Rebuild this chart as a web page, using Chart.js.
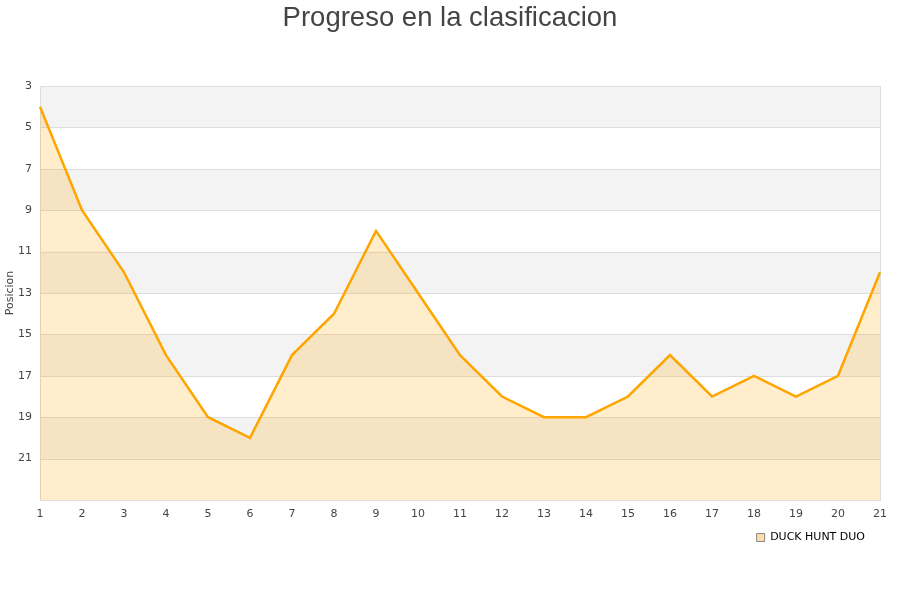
<!DOCTYPE html>
<html>
<head>
<meta charset="utf-8">
<script src="https://cdn.jsdelivr.net/npm/chart.js@4/dist/chart.umd.min.js"></script>
<style>
html,body{margin:0;padding:0;background:#fff;}
#wrap{width:900px;height:600px;position:relative;}
</style>
</head>
<body>
<div id="wrap"><canvas id="c" width="900" height="600"></canvas></div>
<script>
const chartTitle = 'Progreso en la clasificacion';
const seriesName = 'DUCK HUNT DUO';
const yTitle = 'Posicion';
const rounds = ['1','2','3','4','5','6','7','8','9','10','11','12','13','14','15','16','17','18','19','20','21'];
const positions = [4,9,12,16,19,20,16,14,10,13,16,18,19,19,18,16,18,17,18,17,12];
const yMin = 3;
const yMax = 23;
const yStep = 2;

const bandsPlugin = {
  id: 'bands',
  beforeDatasetsDraw(chart) {
    const {ctx, chartArea, scales} = chart;
    const y = scales.y;
    ctx.save();
    ctx.fillStyle = '#f3f3f3';
    for (let v = yMin; v < yMax; v += yStep * 2) {
      const p1 = y.getPixelForValue(v);
      const p2 = y.getPixelForValue(Math.min(v + yStep, yMax));
      ctx.fillRect(chartArea.left, Math.min(p1, p2), chartArea.right - chartArea.left, Math.abs(p2 - p1));
    }
    ctx.strokeStyle = '#dddddd';
    ctx.lineWidth = 1;
    for (let v = yMin; v <= yMax; v += yStep) {
      const p = Math.round(y.getPixelForValue(v)) + 0.5;
      ctx.beginPath();
      ctx.moveTo(chartArea.left, p);
      ctx.lineTo(chartArea.right, p);
      ctx.stroke();
    }
    ctx.strokeRect(Math.round(chartArea.left) + 0.5, Math.round(chartArea.top) + 0.5,
      Math.round(chartArea.right - chartArea.left), Math.round(chartArea.bottom - chartArea.top));
    ctx.restore();
  },
  afterDraw(chart) {
    const ctx = chart.ctx;
    ctx.save();
    ctx.fillStyle = '#444444';
    ctx.font = '27.5px "Liberation Sans", Arial, sans-serif';
    ctx.textAlign = 'center';
    ctx.textBaseline = 'alphabetic';
    ctx.fillText(chartTitle, chart.width / 2, 26);
    ctx.restore();
  }
};

new Chart(document.getElementById('c'), {
  type: 'line',
  data: {
    labels: rounds,
    datasets: [{
      label: seriesName,
      data: positions,
      borderColor: '#FFA500',
      backgroundColor: 'rgba(255,165,0,0.2)',
      borderWidth: 2.5,
      pointRadius: 0,
      pointHoverRadius: 0,
      tension: 0,
      fill: {value: yMax}
    }]
  },
  options: {
    responsive: false,
    animation: false,
    devicePixelRatio: 1,
    layout: {padding: {left: 0, right: 20, top: 86, bottom: 47}},
    plugins: {
      title: {display: false},
      legend: {
        display: true,
        position: 'bottom',
        align: 'end',
        labels: {
          boxWidth: 8,
          boxHeight: 8,
          color: '#000',
          font: {family: '"DejaVu Sans", sans-serif', size: 11},
          padding: 15,
          generateLabels(chart) {
            return [{
              text: seriesName,
              fillStyle: 'rgba(255,220,170,1)',
              strokeStyle: '#888',
              lineWidth: 1,
              hidden: false,
              datasetIndex: 0,
              fontColor: '#000'
            }];
          }
        }
      },
      tooltip: {enabled: false}
    },
    scales: {
      x: {
        type: 'category',
        offset: false,
        grid: {display: false, drawTicks: false},
        border: {display: false},
        ticks: {
          color: '#444',
          font: {family: '"DejaVu Sans", sans-serif', size: 11},
          padding: 8,
          maxRotation: 0,
          autoSkip: false
        },
        afterFit(s) { s.height = 17; }
      },
      y: {
        reverse: true,
        min: yMin,
        max: yMax,
        grid: {display: false, drawTicks: false},
        border: {display: false},
        ticks: {
          stepSize: yStep,
          color: '#444',
          font: {family: '"DejaVu Sans", sans-serif', size: 11},
          padding: 8,
          callback(v) { return v === yMax ? '' : v; }
        },
        title: {
          display: true,
          text: yTitle,
          color: '#444',
          font: {family: '"DejaVu Sans", sans-serif', size: 11},
          padding: {top: 4, bottom: 0}
        },
        afterFit(s) { s.width = 40; }
      }
    }
  },
  plugins: [bandsPlugin]
});
</script>
</body>
</html>
